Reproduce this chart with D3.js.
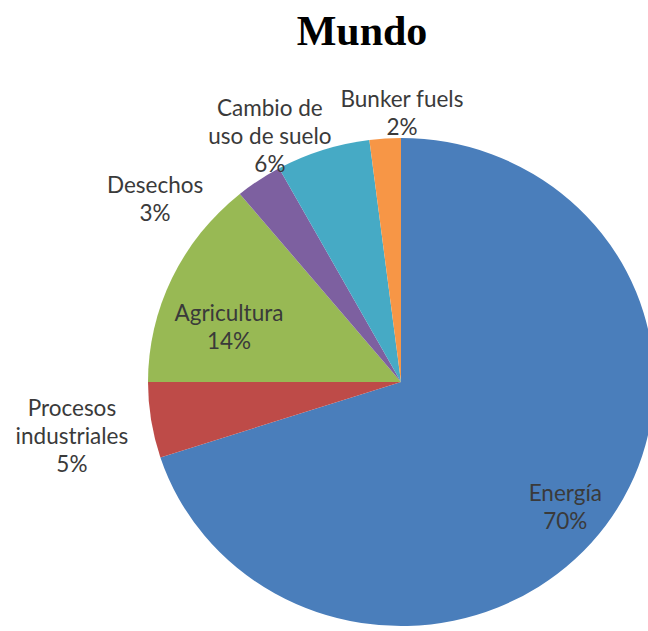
<!DOCTYPE html>
<html>
<head>
<meta charset="utf-8">
<script src="https://cdn.jsdelivr.net/npm/d3@7"></script>
<style>
  body { margin: 0; background: #fff; }
  svg { display: block; }
</style>
</head>
<body>
<svg id="chart" width="648" height="631"></svg>
<script>
// datos
var categories = ["Energía", "Procesos industriales", "Agricultura", "Desechos", "Cambio de uso de suelo", "Bunker fuels"];
var values = [70, 5, 14, 3, 6, 2];
var labelLines = [["Energía"], ["Procesos", "industriales"], ["Agricultura"], ["Desechos"], ["Cambio de", "uso de suelo"], ["Bunker fuels"]];
var colors = ["#4a7ebb", "#be4b48", "#98b954", "#7d60a0", "#46aac5", "#f79646"];

// posicion de etiquetas (angulo en grados, factor de radio) - "best fit" de Excel
var labelAngle = [128.5, 260.2, 288, 307.5, 332.7, 0.2];
var labelRadius = [0.83, 1.32, 0.715, 1.225, 1.13, 1.10];

var svg = d3.select("#chart");
var cx = 401, cy = 382, rx = 253, ry = 244;
var lineH = 28;

svg.append("text")
    .attr("x", 362)
    .attr("y", 45)
    .attr("text-anchor", "middle")
    .style("font-family", "'Liberation Serif', 'Times New Roman', serif")
    .style("font-weight", "bold")
    .style("font-size", "42px")
    .attr("fill", "#000")
    .text("Mundo");

var pie = d3.pie().sort(null).value(function(d){ return d; });
var arcs = pie(values);
var arc = d3.arc().innerRadius(0).outerRadius(1);

// el pastel es ligeramente eliptico
var g = svg.append("g")
    .attr("transform", "translate(" + cx + "," + cy + ") scale(" + rx + "," + ry + ")");

g.selectAll("path")
    .data(arcs)
    .enter()
    .append("path")
    .attr("d", arc)
    .attr("fill", function(d, i){ return colors[i]; });

var labels = svg.append("g")
    .selectAll("text")
    .data(arcs)
    .enter()
    .append("text")
    .attr("text-anchor", "middle")
    .style("font-family", "Lato, 'Noto Sans', sans-serif")
    .style("font-size", "22.5px")
    .attr("fill", "#3a3a3a")
    .each(function(d, i){
        var a = labelAngle[i] * Math.PI / 180;
        var k = labelRadius[i];
        var x = cx + Math.sin(a) * k * rx;
        var y = cy - Math.cos(a) * k * ry;
        var lines = labelLines[i].concat([d3.format(".0f")(d.value) + "%"]);
        var y0 = y - (lines.length - 1) * lineH / 2 + 7;
        var t = d3.select(this);
        lines.forEach(function(s, j){
            t.append("tspan")
                .attr("x", x)
                .attr("y", y0 + j * lineH)
                .text(s);
        });
    });
</script>
</body>
</html>
